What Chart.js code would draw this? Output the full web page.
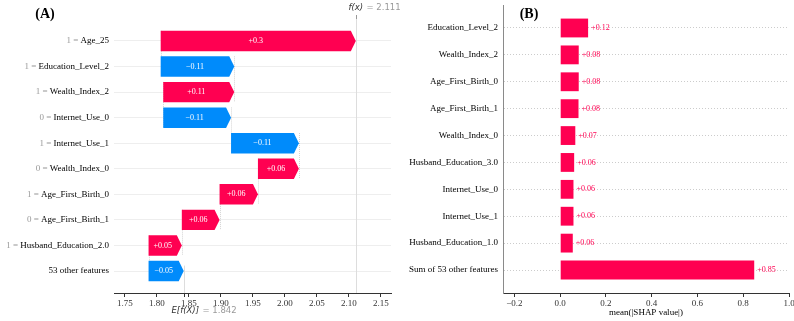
<!DOCTYPE html>
<html>
<head>
<meta charset="utf-8">
<script src="https://cdn.jsdelivr.net/npm/chart.js@4.4.0/dist/chart.umd.min.js"></script>
<style>
    html, body { margin: 0; padding: 0; background: #fff; width: 794px; height: 321px; overflow: hidden; }
    #cajaA { position: absolute; left: 0; top: 0; width: 400px; height: 321px; }
    #cajaB { position: absolute; left: 400px; top: 0; width: 394px; height: 321px; }
</style>
</head>
<body>
<div id="cajaA"><canvas id="graficoWaterfall" width="400" height="321"></canvas></div>
<div id="cajaB"><canvas id="graficoBarras" width="394" height="321"></canvas></div>
<script>
// (A) waterfall
const nombresA = ["Age_25", "Education_Level_2", "Wealth_Index_2", "Internet_Use_0", "Internet_Use_1",
    "Wealth_Index_0", "Age_First_Birth_0", "Age_First_Birth_1", "Husband_Education_2.0", "53 other features"];
const valorFeatA = ["1", "1", "1", "0", "1", "0", "1", "0", "1", ""];
const shapA = [0.305, -0.115, 0.111, -0.106, -0.106, 0.064, 0.060, 0.059, 0.052, -0.055];
const etiquetasA = ["+0.3", "\u22120.11", "+0.11", "\u22120.11", "\u22120.11", "+0.06", "+0.06", "+0.06", "+0.05", "\u22120.05"];
const baseA = 1.842;
const fxA = 2.111;
const ticksA = [1.75, 1.80, 1.85, 1.90, 1.95, 2.00, 2.05, 2.10, 2.15];

// (B) mean |SHAP|
const nombresB = ["Education_Level_2", "Wealth_Index_2", "Age_First_Birth_0", "Age_First_Birth_1", "Wealth_Index_0",
    "Husband_Education_3.0", "Internet_Use_0", "Internet_Use_1", "Husband_Education_1.0", "Sum of 53 other features"];
const valoresB = [0.122, 0.081, 0.081, 0.080, 0.066, 0.061, 0.058, 0.058, 0.055, 0.848];
const etiquetasB = ["+0.12", "+0.08", "+0.08", "+0.08", "+0.07", "+0.06", "+0.06", "+0.06", "+0.06", "+0.85"];
const ticksB = [-0.2, 0.0, 0.2, 0.4, 0.6, 0.8, 1.0];

const rojo = "#ff0051";
const azul = "#008bfb";
const serif = "'Liberation Serif', 'Times New Roman', serif";
const sans = "'DejaVu Sans', sans-serif";

// puntos de inicio del waterfall (desde abajo, partiendo de E[f(X)])
const inicioA = [];
let acum = baseA;
for (let i = shapA.length - 1; i >= 0; i--) {
    inicioA[i] = acum;
    acum += shapA[i];
}
const datosA = shapA.map((v, i) => ({ x: [inicioA[i], inicioA[i] + v], y: i }));

const pluginWaterfall = {
    id: "pluginWaterfall",
    beforeDatasetsDraw(chart) {
        const { ctx, chartArea, scales } = chart;
        const meta = chart.getDatasetMeta(0);
        ctx.save();
        // conectores entre barras
        ctx.strokeStyle = "#d4d4d4";
        ctx.lineWidth = 1;
        ctx.setLineDash([1, 1]);
        for (let i = 0; i < meta.data.length - 1; i++) {
            const a = meta.data[i], b = meta.data[i + 1];
            const x = Math.round(scales.x.getPixelForValue(inicioA[i])) + 0.5;
            ctx.beginPath();
            ctx.moveTo(x, a.y - a.height / 2);
            ctx.lineTo(x, b.y + b.height / 2);
            ctx.stroke();
        }
        ctx.setLineDash([]);
        // linea f(x)
        const xf = Math.round(scales.x.getPixelForValue(fxA)) + 0.5;
        ctx.strokeStyle = "#dddddd";
        ctx.beginPath();
        ctx.moveTo(xf, chartArea.top);
        ctx.lineTo(xf, chartArea.bottom);
        ctx.stroke();
        // linea E[f(X)]
        const xe = Math.round(scales.x.getPixelForValue(baseA)) + 0.5;
        ctx.beginPath();
        ctx.moveTo(xe, chartArea.bottom - (chartArea.bottom - chartArea.top) / 10);
        ctx.lineTo(xe, chartArea.bottom);
        ctx.stroke();
        ctx.restore();
    },
    afterDatasetsDraw(chart) {
        const { ctx } = chart;
        const meta = chart.getDatasetMeta(0);
        ctx.save();
        meta.data.forEach((barra, i) => {
            const { x, y, base, height } = barra.getProps(["x", "y", "base", "height"], true);
            const dir = x >= base ? 1 : -1;
            const h = height / 2;
            const punta = Math.min(5, Math.abs(x - base));
            const cuello = x - dir * punta;
            ctx.beginPath();
            ctx.moveTo(base, y - h);
            ctx.lineTo(cuello, y - h);
            ctx.lineTo(x, y);
            ctx.lineTo(cuello, y + h);
            ctx.lineTo(base, y + h);
            ctx.closePath();
            ctx.fillStyle = shapA[i] >= 0 ? rojo : azul;
            ctx.fill();
            ctx.fillStyle = "#ffffff";
            ctx.font = "8px " + serif;
            ctx.textAlign = "center";
            ctx.textBaseline = "middle";
            ctx.fillText(etiquetasA[i], (base + cuello) / 2, y);
        });
        ctx.restore();
    },
    afterDraw(chart) {
        const { ctx, chartArea, scales } = chart;
        ctx.save();
        // etiquetas del eje y: valor en gris, nombre en negro
        ctx.font = "9px " + serif;
        ctx.textBaseline = "middle";
        ctx.textAlign = "right";
        const xr = chartArea.left - 5;
        nombresA.forEach((nombre, i) => {
            const y = scales.y.getPixelForValue(i);
            ctx.fillStyle = "#000000";
            ctx.fillText(nombre, xr, y);
            if (valorFeatA[i] !== "") {
                const w = ctx.measureText(nombre).width;
                ctx.fillStyle = "#999999";
                ctx.fillText(valorFeatA[i] + " = ", xr - w, y);
            }
        });
        // titulo (A)
        ctx.font = "bold 14px " + serif;
        ctx.fillStyle = "#000000";
        ctx.textAlign = "center";
        ctx.fillText("(A)", 45, 14);
        // f(x) arriba
        const xf = Math.round(scales.x.getPixelForValue(fxA)) + 0.5;
        ctx.strokeStyle = "#999999";
        ctx.lineWidth = 1;
        ctx.beginPath();
        ctx.moveTo(xf, chartArea.top - 4);
        ctx.lineTo(xf, chartArea.top);
        ctx.stroke();
        ctx.textAlign = "left";
        ctx.font = "italic 8.5px " + sans;
        ctx.fillStyle = "#333333";
        ctx.fillText("f(x)", xf - 8, 8);
        ctx.font = "8.5px " + sans;
        ctx.fillStyle = "#999999";
        ctx.fillText("= " + fxA.toFixed(3), xf + 10, 8);
        // E[f(X)] abajo
        const xe = Math.round(scales.x.getPixelForValue(baseA)) + 0.5;
        ctx.strokeStyle = "#333333";
        ctx.beginPath();
        ctx.moveTo(xe, chartArea.bottom);
        ctx.lineTo(xe, chartArea.bottom + 4);
        ctx.stroke();
        ctx.font = "italic 8.5px " + sans;
        ctx.fillStyle = "#333333";
        ctx.fillText("E[f(X)]", xe - 13, 311);
        ctx.font = "8.5px " + sans;
        ctx.fillStyle = "#999999";
        ctx.fillText("= " + baseA.toFixed(3), xe + 18, 311);
        ctx.restore();
    },
};

const configGraficoWaterfall = {
    type: "bar",
    data: {
        datasets: [
            {
                data: datosA,
                backgroundColor: "rgba(0,0,0,0)",
                categoryPercentage: 1,
                barPercentage: 0.8,
            },
        ],
    },
    options: {
        indexAxis: "y",
        responsive: false,
        animation: false,
        devicePixelRatio: 1,
        layout: { padding: { top: 19, right: 9, bottom: 0, left: 0 } },
        plugins: { legend: { display: false }, tooltip: { enabled: false } },
        scales: {
            x: {
                type: "linear",
                min: 1.733,
                max: 2.166,
                afterBuildTicks: (s) => { s.ticks = ticksA.map((v) => ({ value: v })); },
                afterFit: (s) => { s.paddingLeft = 0; s.paddingRight = 0; s.height = 28; },
                ticks: {
                    callback: (v) => v.toFixed(2),
                    font: { family: serif, size: 9 },
                    color: "#333333",
                    padding: 1,
                    maxRotation: 0,
                },
                grid: { drawOnChartArea: false, drawTicks: true, tickLength: 4, color: "#333333" },
                border: { color: "#333333", width: 1 },
            },
            y: {
                type: "linear",
                reverse: true,
                offset: false,
                min: -0.86,
                max: 9.86,
                afterBuildTicks: (s) => { s.ticks = nombresA.map((n, i) => ({ value: i })); },
                afterFit: (s) => { s.width = 114; s.paddingTop = 0; s.paddingBottom = 0; },
                ticks: { display: false },
                grid: { color: "#eeeeee", drawTicks: false, offset: false },
                border: { display: false },
            },
        },
    },
    plugins: [pluginWaterfall],
};
const chart1 = new Chart(document.getElementById("graficoWaterfall"), configGraficoWaterfall);

const pluginBarras = {
    id: "pluginBarras",
    afterDatasetsDraw(chart) {
        const { ctx } = chart;
        const meta = chart.getDatasetMeta(0);
        ctx.save();
        ctx.font = "8px " + serif;
        ctx.fillStyle = rojo;
        ctx.textAlign = "left";
        ctx.textBaseline = "middle";
        meta.data.forEach((barra, i) => {
            ctx.fillText(etiquetasB[i], barra.x + 3, barra.y);
        });
        ctx.font = "bold 14px " + serif;
        ctx.fillStyle = "#000000";
        ctx.textAlign = "center";
        ctx.fillText("(B)", 129, 14);
        ctx.restore();
    },
};

const configGraficoBarras = {
    type: "bar",
    data: {
        datasets: [
            {
                data: valoresB.map((v, i) => ({ x: v, y: i })),
                backgroundColor: rojo,
                categoryPercentage: 1,
                barPercentage: 0.7,
            },
        ],
    },
    options: {
        indexAxis: "y",
        responsive: false,
        animation: false,
        devicePixelRatio: 1,
        layout: { padding: { top: 5, right: 5, bottom: 0, left: 0 } },
        plugins: { legend: { display: false }, tooltip: { enabled: false } },
        scales: {
            x: {
                type: "linear",
                min: -0.25,
                max: 1.0,
                afterBuildTicks: (s) => { s.ticks = ticksB.map((v) => ({ value: v })); },
                afterFit: (s) => { s.paddingLeft = 0; s.paddingRight = 0; s.height = 28; },
                ticks: {
                    callback: (v) => v.toFixed(1).replace("-", "\u2212"),
                    font: { family: serif, size: 9 },
                    color: "#333333",
                    padding: 1,
                    maxRotation: 0,
                },
                title: {
                    display: true,
                    text: "mean(|SHAP value|)",
                    font: { family: serif, size: 9 },
                    color: "#000000",
                    padding: { top: 0, bottom: 3 },
                },
                grid: { drawOnChartArea: false, drawTicks: true, tickLength: 4, color: "#333333" },
                border: { color: "#333333", width: 1 },
            },
            y: {
                type: "linear",
                reverse: true,
                offset: false,
                min: -0.855,
                max: 9.855,
                afterBuildTicks: (s) => { s.ticks = nombresB.map((n, i) => ({ value: i })); },
                afterFit: (s) => { s.width = 103; s.paddingTop = 0; s.paddingBottom = 0; },
                ticks: {
                    callback: (v) => nombresB[v],
                    font: { family: serif, size: 9 },
                    color: "#000000",
                    padding: 5,
                },
                grid: { color: "#cccccc", drawTicks: false, offset: false },
                border: { color: "#8a8a8a", width: 1, dash: [1, 2] },
            },
        },
    },
    plugins: [pluginBarras],
};
const chart2 = new Chart(document.getElementById("graficoBarras"), configGraficoBarras);
</script>
</body>
</html>
